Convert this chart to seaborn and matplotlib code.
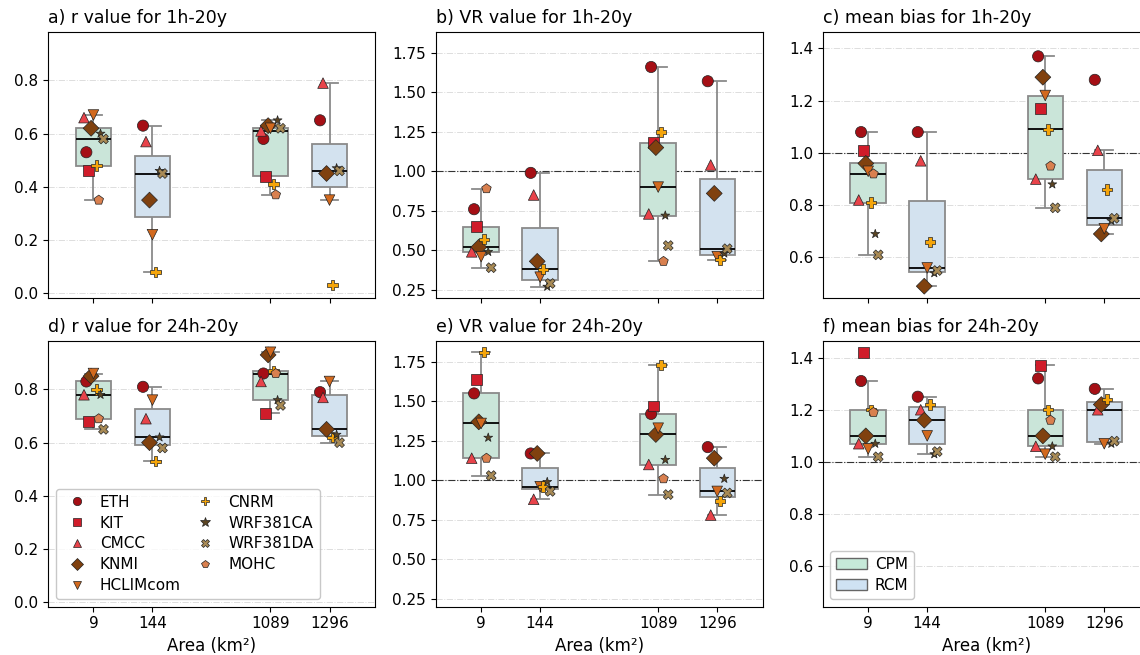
import matplotlib
matplotlib.use("Agg")
import matplotlib.pyplot as plt
from matplotlib.lines import Line2D
from matplotlib.patches import Patch
import seaborn as sns
import pandas as pd

# AREAS / GROUPS
areas = ["9", "144", "1089", "1296"]
area_pos = [0, 1, 3, 4]
kinds = ["CPM", "RCM", "CPM", "RCM"]

cpm_models = ["ETH", "KIT", "CMCC", "KNMI", "HCLIMcom", "CNRM", "WRF381CA", "WRF381DA", "MOHC"]
rcm_models = ["ETH", "CMCC", "KNMI", "HCLIMcom", "CNRM", "WRF381CA", "WRF381DA"]

# VALUES (per area: 9 CPM, 144 RCM, 1089 CPM, 1296 RCM)
r_1h = [
    [0.53, 0.46, 0.66, 0.62, 0.67, 0.48, 0.60, 0.58, 0.35],
    [0.63, 0.57, 0.35, 0.22, 0.08, 0.46, 0.45],
    [0.58, 0.44, 0.61, 0.63, 0.62, 0.41, 0.65, 0.62, 0.37],
    [0.65, 0.79, 0.45, 0.35, 0.03, 0.47, 0.46],
]
vr_1h = [
    [0.76, 0.65, 0.49, 0.52, 0.46, 0.57, 0.49, 0.39, 0.89],
    [0.99, 0.85, 0.43, 0.33, 0.38, 0.27, 0.29],
    [1.66, 1.18, 0.73, 1.15, 0.90, 1.25, 0.72, 0.53, 0.43],
    [1.57, 1.04, 0.86, 0.46, 0.44, 0.48, 0.51],
]
bias_1h = [
    [1.08, 1.01, 0.82, 0.96, 0.93, 0.81, 0.69, 0.61, 0.92],
    [1.08, 0.97, 0.49, 0.56, 0.66, 0.54, 0.55],
    [1.37, 1.17, 0.90, 1.29, 1.22, 1.09, 0.88, 0.79, 0.95],
    [1.28, 1.01, 0.69, 0.71, 0.86, 0.74, 0.75],
]
r_24h = [
    [0.83, 0.68, 0.78, 0.85, 0.86, 0.80, 0.78, 0.65, 0.69],
    [0.81, 0.69, 0.60, 0.76, 0.53, 0.62, 0.58],
    [0.86, 0.71, 0.83, 0.93, 0.94, 0.87, 0.76, 0.74, 0.86],
    [0.79, 0.77, 0.65, 0.83, 0.62, 0.63, 0.60],
]
vr_24h = [
    [1.55, 1.64, 1.14, 1.37, 1.36, 1.81, 1.27, 1.03, 1.14],
    [1.17, 0.88, 1.17, 0.96, 0.96, 0.99, 0.93],
    [1.42, 1.47, 1.10, 1.29, 1.33, 1.73, 1.13, 0.91, 1.01],
    [1.21, 0.78, 1.14, 0.93, 0.87, 1.01, 0.92],
]
bias_24h = [
    [1.31, 1.42, 1.07, 1.10, 1.05, 1.20, 1.07, 1.02, 1.19],
    [1.25, 1.20, 1.16, 1.10, 1.22, 1.03, 1.04],
    [1.32, 1.37, 1.06, 1.10, 1.03, 1.20, 1.06, 1.02, 1.16],
    [1.28, 1.20, 1.22, 1.07, 1.24, 1.07, 1.08],
]

titles = [
    "a) r value for 1h-20y", "b) VR value for 1h-20y", "c) mean bias for 1h-20y",
    "d) r value for 24h-20y", "e) VR value for 24h-20y", "f) mean bias for 24h-20y",
]
panels = [r_1h, vr_1h, bias_1h, r_24h, vr_24h, bias_24h]

# STYLE
model_order = ["ETH", "KIT", "CMCC", "KNMI", "HCLIMcom", "CNRM", "WRF381CA", "WRF381DA", "MOHC"]
model_colors = {
    "ETH": "#a50f15", "KIT": "#d01c2a", "CMCC": "#e8434a", "KNMI": "#80410f",
    "HCLIMcom": "#d2691e", "CNRM": "#f5a50a", "WRF381CA": "#5c4522",
    "WRF381DA": "#a88a55", "MOHC": "#d9804f",
}
model_markers = {
    "ETH": "o", "KIT": "s", "CMCC": "^", "KNMI": "D", "HCLIMcom": "v",
    "CNRM": "P", "WRF381CA": "*", "WRF381DA": "X", "MOHC": "p",
}
model_sizes = {
    "ETH": 65, "KIT": 60, "CMCC": 58, "KNMI": 65, "HCLIMcom": 58,
    "CNRM": 55, "WRF381CA": 45, "WRF381DA": 50, "MOHC": 52,
}
cpm_offset = {"ETH": -0.12, "KIT": -0.08, "CMCC": -0.16, "KNMI": -0.04, "HCLIMcom": 0.0,
              "CNRM": 0.05, "WRF381CA": 0.12, "WRF381DA": 0.17, "MOHC": 0.09}
rcm_offset = {"ETH": -0.16, "CMCC": -0.11, "KNMI": -0.05, "HCLIMcom": 0.0,
              "CNRM": 0.05, "WRF381CA": 0.12, "WRF381DA": 0.17}
box_colors = {"CPM": "#c6e9d9", "RCM": "#cfe2f3"}

ylims = [(-0.017, 0.983), (0.2, 1.883), (0.446, 1.464)]
yticks = [[0.0, 0.2, 0.4, 0.6, 0.8], [0.25, 0.5, 0.75, 1.0, 1.25, 1.5, 1.75], [0.6, 0.8, 1.0, 1.2, 1.4]]
yticklabels = [["0.0", "0.2", "0.4", "0.6", "0.8"],
               ["0.25", "0.50", "0.75", "1.00", "1.25", "1.50", "1.75"],
               ["0.6", "0.8", "1.0", "1.2", "1.4"]]

# FIGURE
fig = plt.figure(figsize=(11.4, 6.55), dpi=100)

lefts = [0.0421, 0.3822, 0.7217]
bottoms = [0.5455, 0.0737]
w, h = 0.2868, 0.406

for i, vals in enumerate(panels):
    row, col = divmod(i, 3)
    ax = fig.add_axes([lefts[col], bottoms[row], w, h])

    rows = []
    for k in range(4):
        models = cpm_models if kinds[k] == "CPM" else rcm_models
        offs = cpm_offset if kinds[k] == "CPM" else rcm_offset
        for m, v in zip(models, vals[k]):
            rows.append({"pos": area_pos[k], "kind": kinds[k], "model": m,
                         "val": v, "xj": area_pos[k] + offs[m]})
    df = pd.DataFrame(rows)
    df["model"] = pd.Categorical(df["model"], categories=model_order, ordered=True)
    df = df.sort_values("model")

    ax.yaxis.grid(True, linestyle="-.", color="#dddddd", linewidth=0.7)
    ax.set_axisbelow(True)

    if col > 0:
        ax.axhline(1.0, color="#333333", linestyle="-.", linewidth=0.8, zorder=1)

    sns.boxplot(
        data=df, x="pos", y="val", hue="kind", palette=box_colors,
        native_scale=True, dodge=False, width=0.6, showfliers=False,
        linecolor="#8a8a8a", linewidth=1.3,
        medianprops=dict(color="k", linewidth=1.3),
        legend=False, ax=ax,
    )

    sns.scatterplot(
        data=df, x="xj", y="val", hue="model", style="model", size="model",
        hue_order=model_order, style_order=model_order, size_order=model_order,
        palette=model_colors, markers=model_markers, sizes=model_sizes,
        edgecolor="#222222", linewidth=0.5, legend=False, ax=ax, zorder=3,
    )

    ax.set_xlim(-0.77, 4.77)
    ax.set_ylim(*ylims[col])
    ax.set_yticks(yticks[col])
    ax.set_yticklabels(yticklabels[col], fontsize=11)
    ax.set_xticks(area_pos)
    if row == 1:
        ax.set_xticklabels(areas, fontsize=11)
        ax.set_xlabel("Area (km²)", fontsize=12)
    else:
        ax.set_xticklabels([])
        ax.set_xlabel("")
    ax.set_ylabel("")
    ax.set_title(titles[i], loc="left", fontsize=12.5)

    # LEGENDS
    if i == 3:
        handles = [
            Line2D([], [], linestyle="", marker=model_markers[m], color=model_colors[m],
                   markeredgecolor="#222222", markeredgewidth=0.5,
                   markersize=6 if m != "WRF381CA" else 7, label=m)
            for m in model_order
        ]
        ax.legend(handles=handles, loc="lower left", ncol=2, fontsize=11,
                  edgecolor="#bbbbbb", columnspacing=0.6, handletextpad=0.5,
                  labelspacing=0.38)
    if i == 5:
        handles = [Patch(facecolor=box_colors[k], edgecolor="#666666", label=k) for k in ["CPM", "RCM"]]
        ax.legend(handles=handles, loc="lower left", fontsize=11, edgecolor="#bbbbbb",
                  handletextpad=0.5, labelspacing=0.4)

fig.savefig("out.png", dpi=100)
